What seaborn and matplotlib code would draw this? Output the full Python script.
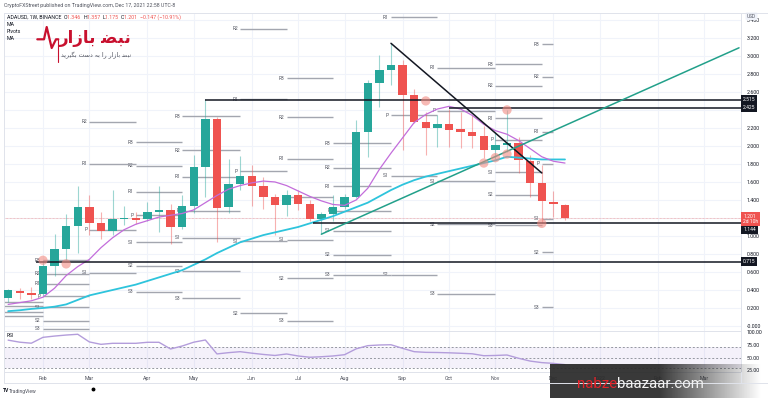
import numpy as np
import pandas as pd
import matplotlib
matplotlib.use("Agg")
import matplotlib.pyplot as plt
import matplotlib.dates as mdates
from matplotlib.lines import Line2D
import seaborn as sns

# weekly candles, ADAUSD 1W (Binance)
weeks = pd.date_range("2021-01-11", "2021-12-13", freq="W-MON")
opens = [0.31, 0.39, 0.37, 0.36, 0.67, 0.85, 1.11, 1.32, 1.14, 1.06, 1.19, 1.20, 1.19,
         1.27, 1.29, 1.10, 1.33, 1.77, 2.30, 1.32, 1.58, 1.67, 1.56, 1.43, 1.34, 1.46,
         1.35, 1.19, 1.24, 1.32, 1.43, 2.16, 2.70, 2.84, 2.90, 2.57, 2.27, 2.20, 2.24,
         2.19, 2.15, 2.11, 1.96, 2.01, 2.03, 1.83, 1.59, 1.38, 1.346]
highs = [0.41, 0.42, 0.43, 0.73, 1.02, 1.24, 1.55, 1.46, 1.27, 1.51, 1.33, 1.27, 1.38,
         1.56, 1.35, 1.46, 1.90, 2.52, 2.32, 1.86, 1.89, 1.79, 1.66, 1.47, 1.51, 1.51,
         1.40, 1.27, 1.45, 1.47, 2.29, 2.73, 3.01, 3.14, 2.96, 2.63, 2.38, 2.34, 2.41,
         2.38, 2.34, 2.22, 2.16, 2.40, 2.10, 1.90, 1.79, 1.50, 1.357]
lows = [0.27, 0.30, 0.30, 0.33, 0.56, 0.73, 0.81, 1.01, 0.97, 1.01, 1.12, 1.13, 1.17,
        1.04, 0.91, 1.08, 1.25, 1.43, 0.93, 1.25, 1.51, 1.33, 1.30, 1.01, 1.22, 1.29,
        1.17, 1.02, 1.17, 1.30, 1.42, 1.88, 2.43, 2.68, 1.96, 2.25, 1.90, 1.99, 1.99,
        1.98, 1.98, 1.87, 1.86, 1.93, 1.70, 1.43, 1.14, 1.21, 1.175]
closes = [0.40, 0.37, 0.35, 0.67, 0.85, 1.11, 1.32, 1.14, 1.06, 1.19, 1.20, 1.18, 1.27,
          1.29, 1.10, 1.33, 1.77, 2.30, 1.31, 1.58, 1.67, 1.56, 1.43, 1.34, 1.46, 1.35,
          1.19, 1.24, 1.32, 1.43, 2.16, 2.70, 2.84, 2.90, 2.57, 2.27, 2.20, 2.24, 2.18,
          2.15, 2.11, 1.96, 2.01, 2.03, 1.84, 1.59, 1.39, 1.35, 1.201]
ma_fast = [0.24, 0.26, 0.28, 0.32, 0.42, 0.56, 0.66, 0.74, 0.87, 0.98, 1.07, 1.13, 1.17,
           1.21, 1.23, 1.25, 1.29, 1.37, 1.45, 1.52, 1.56, 1.59, 1.61, 1.60, 1.56, 1.50,
           1.44, 1.39, 1.35, 1.34, 1.40, 1.53, 1.74, 1.92, 2.09, 2.26, 2.35, 2.41, 2.44,
           2.41, 2.34, 2.24, 2.17, 2.13, 2.06, 1.97, 1.88, 1.83, 1.81]
ma_slow = [0.165, 0.175, 0.19, 0.20, 0.215, 0.24, 0.29, 0.34, 0.37, 0.40, 0.43, 0.46, 0.50,
           0.54, 0.58, 0.62, 0.68, 0.74, 0.81, 0.87, 0.93, 0.97, 1.01, 1.04, 1.07, 1.10,
           1.14, 1.18, 1.22, 1.27, 1.32, 1.37, 1.44, 1.51, 1.57, 1.62, 1.66, 1.69, 1.72,
           1.75, 1.78, 1.81, 1.84, 1.88, 1.87, 1.86, 1.85, 1.85, 1.85]
rsi = [84, 80, 78, 89.5, 92, 94, 95.5, 80.5, 75.8, 77.8, 77.8, 77.8, 79.8,
       79.8, 66.7, 72.5, 80, 84.3, 57, 59.5, 61.4, 58.5, 56, 54, 56.9, 53,
       50.5, 51.5, 53, 55.5, 67, 73.2, 74.5, 75, 68, 61.4, 60.1, 59.8, 59.2,
       58.3, 57.3, 53.5, 54, 54.9, 48.5, 43, 40, 38.5, 36]

# monthly standard pivots (None = not visible)
pivot_start = ["2020-12-28", "2021-02-01", "2021-03-01", "2021-03-29", "2021-04-26", "2021-05-31",
               "2021-06-28", "2021-07-26", "2021-08-30", "2021-09-27", "2021-11-01", "2021-11-29"]
pivot_end = ["2021-02-01", "2021-03-01", "2021-03-29", "2021-04-26", "2021-05-31", "2021-06-28",
             "2021-07-26", "2021-08-30", "2021-09-27", "2021-11-01", "2021-11-29", "2021-12-06"]
pivot_r3 = [None, 0.73, None, 2.04, 2.33, None, 2.75, 2.03, None, None, 2.91, 3.13]
pivot_r2 = [0.267, 0.58, 2.27, 1.78, 1.95, 3.30, 2.32, 1.76, None, None, 2.67, 2.77]
pivot_r1 = [0.22, 0.47, 1.80, 1.49, 1.66, 2.52, 1.86, 1.55, 3.43, 2.87, 2.31, 2.16]
pivot_p = [0.16, 0.33, 1.07, 1.23, 1.28, 1.72, 1.43, 1.28, 2.34, 2.39, 2.07, 1.80]
pivot_s1 = [0.11, 0.21, 0.59, 0.93, 0.98, 0.94, 0.96, 1.06, 1.67, 1.61, 1.71, 1.19]
pivot_s2 = [None, 0.06, None, 0.67, 0.61, 0.14, 0.53, 0.79, 0.57, 1.13, 1.46, 0.82]
pivot_s3 = [None, -0.03, None, 0.38, 0.31, None, 0.06, 0.57, None, 0.36, 1.12, 0.21]

# drawn horizontal levels and trendlines
level_values = [2.515, 2.425, 1.144, 0.715]
level_start = ["2021-05-10", "2021-10-04", "2021-07-14", "2021-01-28"]
down_tl_dates = ["2021-08-30", "2021-11-29"]
down_tl_prices = [3.14, 1.70]
up_tl_dates = ["2021-07-19", "2022-03-28"]
up_tl_prices = [1.02, 3.09]
marker_dates = ["2021-02-01", "2021-02-15", "2021-09-20", "2021-11-08",
                "2021-10-25", "2021-11-01", "2021-11-08", "2021-11-29"]
marker_prices = [0.73, 0.69, 2.50, 2.40, 1.81, 1.87, 1.91, 1.14]
last_price = 1.201

tick_dates = ["2021-02-01", "2021-03-01", "2021-04-05", "2021-05-03", "2021-06-07", "2021-07-05",
              "2021-08-02", "2021-09-06", "2021-10-04", "2021-11-01", "2021-12-06", "2022-01-03",
              "2022-02-07", "2022-03-07"]
tick_labels = ["Feb", "Mar", "Apr", "May", "Jun", "Jul", "Aug", "Sep", "Oct", "Nov", "Dec",
               "2022", "Feb", "Mar"]

TEAL = "#26a69a"
RED = "#ef5350"
GRID = "#f0f3fa"
BORDER = "#e0e3eb"
TXT = "#131722"

W, H = 768, 398
sns.set_theme(style="white")
plt.rcParams["font.family"] = ["Roboto", "DejaVu Sans"]


def dn(d):
    return mdates.date2num(pd.Timestamp(d))


def fx(x):
    return x / W


def fy(y):
    return 1 - y / H


fig = plt.figure(figsize=(W / 100, H / 100), dpi=100)
fig.patch.set_facecolor("white")
ax = fig.add_axes([fx(4), fy(330.7), 737 / W, 318 / H])
ax_r = fig.add_axes([fx(4), fy(371.7), 737 / W, 41 / H], sharex=ax)

xd = mdates.date2num(weeks)
feb1 = dn("2021-02-01")
x_left, x_right = feb1 - 23.5, feb1 + 421.2
tick_x = [dn(d) for d in tick_dates]

for a in (ax, ax_r):
    a.set_facecolor("white")
    for sp in a.spines.values():
        sp.set_color(BORDER)
        sp.set_linewidth(0.7)
    a.set_xticks(tick_x)
    a.grid(axis="x", color=GRID, lw=0.8)
    a.set_axisbelow(True)

ax.set_xlim(x_left, x_right)
ax.set_ylim(-0.052, 3.48)
price_ticks = np.round(np.arange(0, 3.41, 0.2), 1)
# 1.200 and 2.400 sit under the price tags on the axis
hidden_ticks = (1.2, 2.4)
ax.set_yticks(price_ticks)
ax.set_yticklabels(["" if v in hidden_ticks else ("-0.000" if v == 0 else f"{v:.3f}")
                    for v in price_ticks])
ax.grid(axis="y", color=GRID, lw=0.8)
ax.yaxis.tick_right()
ax.tick_params(axis="y", length=0, pad=4, labelsize=3.8, labelcolor=TXT)
ax.tick_params(axis="x", length=0, labelbottom=False)

# pivots
pivot_levels = {"R3": pivot_r3, "R2": pivot_r2, "R1": pivot_r1, "P": pivot_p,
                "S1": pivot_s1, "S2": pivot_s2, "S3": pivot_s3}
for name, vals in pivot_levels.items():
    for s, e, v in zip(pivot_start, pivot_end, vals):
        if v is None:
            continue
        ax.hlines(v, dn(s), dn(e), color="#a3a6af", lw=1.0, zorder=2)
        if dn(s) - 6 > x_left:
            ax.text(dn(s) - 1.3, v, name, fontsize=3.5, color="#50535e", ha="right",
                    va="center", clip_on=True, zorder=2)

# candles
o, h, l, c = map(np.array, (opens, highs, lows, closes))
colors = np.where(c >= o, TEAL, RED)
ax.vlines(xd, l, h, colors=colors, lw=0.8, alpha=0.45, zorder=3)
ax.bar(xd, np.maximum(np.abs(c - o), 0.008), bottom=np.minimum(o, c), width=5.1,
       color=colors, linewidth=0, zorder=4)

# moving averages
sns.lineplot(x=xd, y=ma_slow, ax=ax, color="#2ec4dc", lw=1.3, estimator=None, zorder=5)
sns.lineplot(x=xd, y=ma_fast, ax=ax, color="#c36ddb", lw=0.9, estimator=None, zorder=5)

# drawn levels and trendlines
for v, s in zip(level_values, level_start):
    ax.hlines(v, dn(s), x_right, color="#131722", lw=1.1, zorder=6)
ax.axhline(last_price, color=RED, lw=0.5, ls=(0, (1, 1)), alpha=0.6, zorder=1)
ax.plot([dn(d) for d in down_tl_dates], down_tl_prices, color="#131722", lw=1.1, zorder=6)
ax.plot([dn(d) for d in up_tl_dates], up_tl_prices, color="#22a08a", lw=1.1, zorder=6)
sns.scatterplot(x=[dn(d) for d in marker_dates], y=marker_prices, ax=ax, s=45,
                color="#f28b82", alpha=0.6, edgecolor="none", zorder=7)

# price tags on the axis (the 1.144 tag is pushed below the countdown tag)
ytr = ax.get_yaxis_transform()
tag_offsets = {2.515: 0.0, 2.425: 0.0, 1.144: -0.075, 0.715: 0.0}
for v in level_values:
    ax.text(1.003, v + tag_offsets[v], f"{v:.3f}", transform=ytr, fontsize=3.6, color="white",
            ha="left", va="center", clip_on=False, zorder=10,
            bbox=dict(boxstyle="square,pad=0.35", fc="#131722", ec="none"))
ax.text(1.003, last_price - 0.012, f"{last_price:.3f}\n2d 10h", transform=ytr, fontsize=3.6,
        color="white", ha="left", va="center", clip_on=False, zorder=11, linespacing=1.1,
        bbox=dict(boxstyle="square,pad=0.35", fc=RED, ec="none"))
ax.text(1.008, 3.44, "USD", transform=ytr, fontsize=3.4, color="#50535e", ha="left",
        va="center", clip_on=False, zorder=11,
        bbox=dict(boxstyle="round,pad=0.3", fc="#f0f3fa", ec="none"))

# RSI pane
ax_r.set_ylim(22.2, 102.5)
ax_r.axhspan(30, 70, color="#7e57c2", alpha=0.08, lw=0)
for lvl in (70, 50, 30):
    ax_r.axhline(lvl, color="#9598a1", lw=0.7, ls=(0, (2, 2)))
sns.lineplot(x=xd, y=rsi, ax=ax_r, color="#b39ddb", lw=1.0, estimator=None)
ax_r.set_yticks([25, 50, 75, 100])
ax_r.set_yticklabels(["25.00", "50.00", "75.00", "100.00"])
ax_r.yaxis.tick_right()
ax_r.tick_params(axis="y", length=0, pad=4, labelsize=3.8, labelcolor=TXT)
ax_r.set_xticklabels(tick_labels)
ax_r.tick_params(axis="x", length=0, pad=3, labelsize=3.8, labelcolor="#50535e")
ax_r.text(0.004, 0.84, "RSI", transform=ax_r.transAxes, fontsize=3.6, color=TXT)
for a in (ax, ax_r):
    a.set_xlabel("")
    a.set_ylabel("")
ax.set_xlim(x_left, x_right)

# frame lines outside the panes
fig.add_artist(Line2D([fx(4), 1], [fy(383)] * 2, color=BORDER, lw=0.7))
fig.add_artist(Line2D([fx(741), 1], [fy(12.7)] * 2, color=BORDER, lw=0.7))
fig.add_artist(Line2D([fx(741)] * 2, [fy(371.7), fy(383)], color=BORDER, lw=0.7))
fig.add_artist(Line2D([fx(4)] * 2, [fy(371.7), fy(383)], color=BORDER, lw=0.7))

renderer = fig.canvas.get_renderer()


def text_run(x, y, pieces, size, **kw):
    for s, col in pieces:
        t = fig.text(fx(x), fy(y), s, color=col, fontsize=size, ha="left", va="center", **kw)
        x += t.get_window_extent(renderer).width


fig.text(fx(4), fy(5.5), "CryptoFXStreet published on TradingView.com, Dec 17, 2021 22:58 UTC-8",
         fontsize=3.8, color="#50535e", va="center")
text_run(7, 17.3, [("ADAUSD, 1W, BINANCE  ", TXT), ("O", TXT), ("1.346  ", RED), ("H", TXT),
                   ("1.357  ", RED), ("L", TXT), ("1.175  ", RED), ("C", TXT), ("1.201  ", RED),
                   ("\u22120.147 (\u221210.91%)", RED)], 3.8)
for yy, s in ((24.5, "MA"), (31.7, "Pivots"), (38.7, "MA")):
    fig.text(fx(7), fy(yy), s, fontsize=3.8, color=TXT, va="center")

# nabzebaazaar logo (Persian, presentation forms in visual order)
beat_x = [37.3, 44, 46.7, 51.7, 56, 58.3]
beat_y = [39.3, 39.3, 27, 48, 39.3, 39.3]
fig.add_artist(Line2D([fx(v) for v in beat_x], [fy(v) for v in beat_y], color="#c8102e", lw=1.6))
fig.add_artist(Line2D([fx(58.3)] * 2, [fy(39.3), fy(62)], color="#c8102e", lw=0.8))
logo_forms = ["\uFEE7", "\uFE92", "\uFEC0", " ", "\uFE91", "\uFE8E", "\uFEAF", "\uFE8D", "\uFEAD"]
sub_forms = ["\uFEE7", "\uFE92", "\uFEC0", " ", "\uFE91", "\uFE8E", "\uFEAF", "\uFE8D", "\uFEAD", " ",
             "\uFEAD", "\uFE8D", " ", "\uFE91", "\uFEEA", " ", "\uFEA9", "\uFEB3", "\uFE96", " ",
             "\uFE91", "\uFB95", "\uFBFF", "\uFEAE", "\uFBFE", "\uFEAA"]
fig.text(fx(59), fy(38), "".join(reversed(logo_forms)), fontsize=12, fontweight="bold",
         color="#c8102e", family=["DejaVu Sans"], va="center")
fig.text(fx(61), fy(55.3), "".join(reversed(sub_forms)), fontsize=4.5, color="#50535e",
         family=["DejaVu Sans"], va="center")

# TradingView footer
fig.text(fx(3), fy(391), "TV", fontsize=3.6, fontweight="bold", color=TXT, va="center")
fig.text(fx(9), fy(391), "TradingView", fontsize=3.6, color="#50535e", va="center")
fig.add_artist(Line2D([fx(92.7)], [fy(388.5)], marker="o", ms=1.8, color="black", lw=0))

# nabzebaazaar.com watermark box
wm = fig.add_axes([fx(550), 0, 218 / W, 34 / H])
t = np.linspace(0, 1, 300)
alpha = np.clip((0.97 - t) / (0.97 - 0.5), 0, 1) * 0.94
grad = np.zeros((1, 300, 4))
grad[..., :3] = 0.17
grad[..., 3] = alpha
wm.imshow(grad, aspect="auto", extent=[0, 1, 0, 1])
wm.axis("off")
text_run(577, 384.5, [("nabze", "#e3242b"), ("baazaar.com", "#f2f2f2")], 10.8)

fig.savefig("out.png", dpi=100, facecolor="white")
